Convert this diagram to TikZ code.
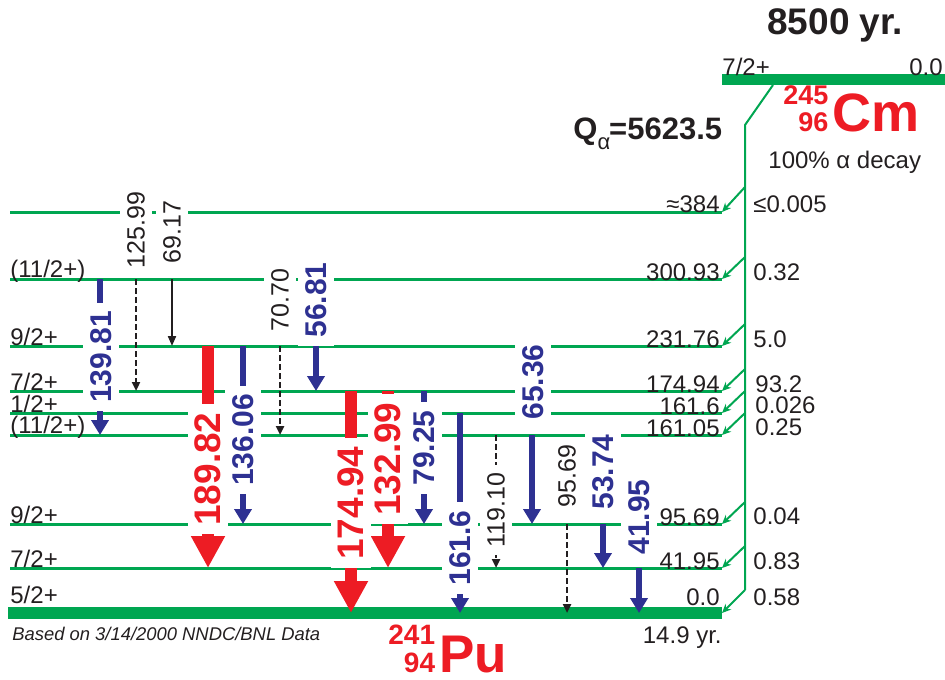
\documentclass[tikz,border=0pt]{standalone}
\usepackage{fontspec}
\setmainfont{Liberation Sans}
\usetikzlibrary{arrows.meta,calc}
\definecolor{lvlgreen}{HTML}{00A651}
\definecolor{gblue}{HTML}{2E3192}
\definecolor{gred}{HTML}{ED1C24}
\definecolor{ink}{HTML}{231F20}
\newcommand\isotope[5]{{\fontsize{#1}{#2}\selectfont\raisebox{0pt}[\height][0pt]{\begin{tabular}[b]{@{}r@{}}#3\\#4\end{tabular}}}\kern2pt#5}

\begin{document}
\begin{tikzpicture}[x=0.5pt, y=-0.5pt,
  lvline/.style={draw=lvlgreen, line width=1.5pt},
  gsbar/.style={draw=lvlgreen, line width=6pt},
  feed/.style={draw=lvlgreen, line width=1pt, -{Stealth[length=4.5pt,width=4pt]}},
  spin/.style={font=\fontsize{12}{14}\selectfont, text=ink, inner sep=0pt, anchor=base west},
  energy/.style={font=\fontsize{12}{14}\selectfont, text=ink, inner sep=0pt, anchor=base east},
  intens/.style={font=\fontsize{12}{14}\selectfont, text=ink, inner sep=0pt, anchor=base west},
  redg/.style={draw=gred, line width=6pt, -{Triangle[length=16pt,width=16pt]}},
  blueg/.style={draw=gblue, line width=2.75pt, -{Triangle[length=7.5pt,width=8.5pt]}},
  weakg/.style={draw=ink, line width=1.4pt, dash pattern=on 3pt off 1.5pt, -{Triangle[length=4.5pt,width=4pt]}},
  solidg/.style={draw=ink, line width=1pt, -{Triangle[length=5pt,width=4pt]}},
  elab/.style={rotate=90, fill=white, inner xsep=4pt, inner ysep=3.5pt},
  redlab/.style={elab, text=gred, font=\fontsize{18.5}{20}\selectfont\bfseries},
  bluelab/.style={elab, text=gblue, font=\fontsize{15}{17}\selectfont\bfseries},
  blacklab/.style={elab, text=ink, font=\fontsize{12.5}{14}\selectfont},
]
  \useasboundingbox (0,0) rectangle (945,679);

  \coordinate (L384) at (10,212); \coordinate (R384) at (722,212);
  \coordinate (L301) at (10,279); \coordinate (R301) at (722,279);
  \coordinate (L232) at (10,346); \coordinate (R232) at (722,346);
  \coordinate (L175) at (10,391); \coordinate (R175) at (722,391);
  \coordinate (L162) at (10,413); \coordinate (R162) at (722,413);
  \coordinate (L161) at (10,435); \coordinate (R161) at (722,435);
  \coordinate (L96) at (10,524);  \coordinate (R96) at (722,524);
  \coordinate (L42) at (10,568);  \coordinate (R42) at (722,568);
  \coordinate (L0) at (8,613);    \coordinate (R0) at (722,613);
  \coordinate (P0) at (722,80);   \coordinate (Q0) at (945,80);
  \coordinate (knee) at (745,125);

  \draw[lvline] (L384) -- (R384);
  \draw[lvline] (L301) -- (R301);
  \draw[lvline] (L232) -- (R232);
  \draw[lvline] (L175) -- (R175);
  \draw[lvline] (L162) -- (R162);
  \draw[lvline] (L161) -- (R161);
  \draw[lvline] (L96) -- (R96);
  \draw[lvline] (L42) -- (R42);
  \draw[gsbar] (L0) -- (R0);
  \draw[gsbar, line width=5.5pt] (P0) -- (Q0);

  \draw[feed, -] ($(P0)+(51,5)$) -- (knee) -- ($(R0)+(23,-23)$);
  \draw[feed] ($(R384)+(23,-25)$) -- (R384);
  \draw[feed] ($(R301)+(23,-22)$) -- (R301);
  \draw[feed] ($(R232)+(23,-22)$) -- (R232);
  \draw[feed] ($(R175)+(23,-22)$) -- (R175);
  \draw[feed] ($(R162)+(23,-22)$) -- (R162);
  \draw[feed] ($(R161)+(23,-22)$) -- (R161);
  \draw[feed] ($(R96)+(23,-22)$) -- (R96);
  \draw[feed] ($(R42)+(23,-22)$) -- (R42);
  \draw[feed] ($(R0)+(23,-23)$) -- (R0);

  \node[spin] (s301) at (10,277) {(11/2+)};
  \node[spin] (s232) at (10,345) {9/2+};
  \node[spin] (s175) at (10,390) {7/2+};
  \node[spin] (s162) at (10,412) {1/2+};
  \node[spin] (s161) at (10,433) {(11/2+)};
  \node[spin] (s96) at (10,523) {9/2+};
  \node[spin] (s42) at (10,567) {7/2+};
  \node[spin] (s0) at (10,603) {5/2+};

  \node[energy] (e384) at (720,213) {≈384};
  \node[energy] (e301) at (720,280) {300.93};
  \node[energy] (e232) at (720,347) {231.76};
  \node[energy] (e175) at (720,392) {174.94};
  \node[energy] (e162) at (720,414) {161.6};
  \node[energy] (e161) at (720,436) {161.05};
  \node[energy] (e96) at (720,525) {95.69};
  \node[energy] (e42) at (720,569) {41.95};
  \node[energy] (e0) at (720,605) {0.0};

  \node[intens] (i384) at (753,213) {≤0.005};
  \node[intens] (i301) at (753,280) {0.32};
  \node[intens] (i232) at (753,347) {5.0};
  \node[intens] (i175) at (755,392) {93.2};
  \node[intens] (i162) at (755,413) {0.026};
  \node[intens] (i161) at (755,435) {0.25};
  \node[intens] (i96) at (753,524) {0.04};
  \node[intens] (i42) at (753,569) {0.83};
  \node[intens] (i0) at (753,605) {0.58};

  \draw[blueg] (100,0 |- L301) -- (100,0 |- L161);
  \draw[weakg] (136,0 |- L301) -- (136,0 |- L175);
  \draw[solidg] (172,0 |- L301) -- (172,0 |- L232);
  \draw[redg] (208,0 |- L232) -- (208,0 |- L42);
  \draw[blueg] (243,0 |- L232) -- (243,0 |- L96);
  \draw[weakg] (280,0 |- L232) -- (280,0 |- L161);
  \draw[blueg] (316,0 |- L232) -- (316,0 |- L175);
  \draw[redg] (351,0 |- L175) -- (351,0 |- L0);
  \draw[redg] (388,0 |- L175) -- (388,0 |- L42);
  \draw[blueg] (424,0 |- L175) -- (424,0 |- L96);
  \draw[blueg] (460,0 |- L162) -- (460,0 |- L0);
  \draw[weakg] (496,0 |- L161) -- (496,0 |- L42);
  \draw[blueg] (532,0 |- L161) -- (532,0 |- L96);
  \draw[weakg] (567,0 |- L96) -- (567,0 |- L0);
  \draw[blueg] (603,0 |- L96) -- (603,0 |- L42);
  \draw[blueg] (639,0 |- L42) -- (639,0 |- L0);

  \node[bluelab] (g13981) at (101,357) {139.81};
  \node[blacklab] (g12599) at (136,230) {125.99};
  \node[blacklab] (g6917) at (172,232) {69.17};
  \node[redlab] (g18982) at (208,469) {189.82};
  \node[bluelab] (g13606) at (243,440) {136.06};
  \node[blacklab] (g7070) at (280,300) {70.70};
  \node[bluelab] (g5681) at (316,300) {56.81};
  \node[redlab] (g17494) at (351,503) {174.94};
  \node[redlab] (g13299) at (388,459) {132.99};
  \node[bluelab] (g7925) at (424,448) {79.25};
  \node[bluelab] (g1616) at (460,548) {161.6};
  \node[blacklab] (g11910) at (496,510) {119.10};
  \node[bluelab] (g6536) at (533,382) {65.36};
  \node[blacklab] (g9569) at (567,476) {95.69};
  \node[bluelab] (g5374) at (603,472) {53.74};
  \node[bluelab] (g4195) at (639,517) {41.95};

  \node[anchor=base west, inner sep=0pt, text=ink, font=\fontsize{18.5}{20}\selectfont\bfseries] (hl) at (767,35) {8500 yr.};
  \node[spin] (ps) at (722,76) {7/2+};
  \node[energy] (pe) at (943,76) {0.0};
  \node[anchor=base west, inner sep=0pt, text=gred, font=\bfseries] (cm) at (783,132) {\isotope{13.5}{13.5}{245}{96}{\fontsize{27}{28}\selectfont Cm}};
  \node[anchor=base west, inner sep=0pt, text=ink, font=\fontsize{15.5}{17}\selectfont\bfseries] (qa) at (573,140) {Q\raisebox{-5pt}{\fontsize{11}{12}\selectfont\mdseries α}\kern-0.5pt=5623.5};
  \node[intens] (mode) at (768,169) {100\% α decay};
  \node[anchor=base west, inner sep=0pt, text=gred, font=\bfseries] (pu) at (388,672) {\isotope{14}{12.5}{241}{94}{\fontsize{26.5}{28}\selectfont Pu}};
  \node[anchor=base west, inner sep=0pt, text=ink, font=\fontsize{9.2}{11}\selectfont\itshape] (src) at (12,640) {Based on 3/14/2000 NNDC/BNL Data};
  \node[energy] (hd) at (722,643) {14.9 yr.};
\end{tikzpicture}
\end{document}
